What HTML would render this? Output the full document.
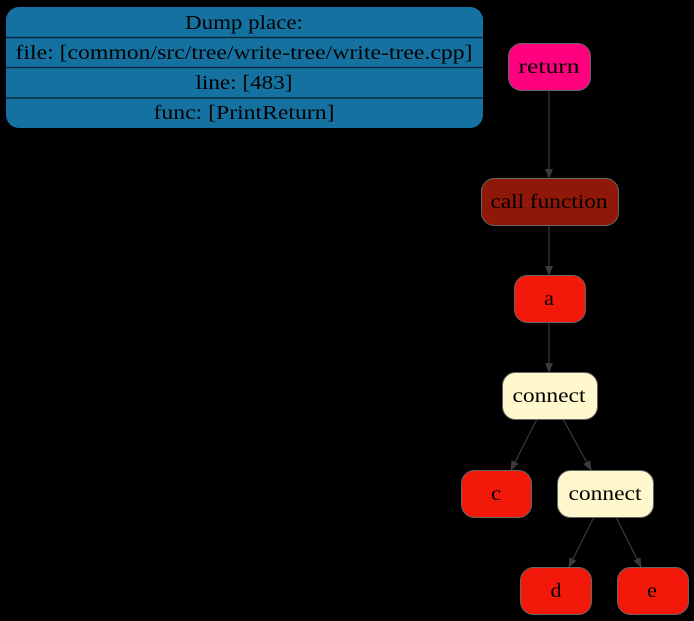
<!DOCTYPE html>
<html><head><style>body{margin:0;background:#000}svg{display:block}text{font-family:"Liberation Serif",serif;font-size:20px;fill:#000}</style></head>
<body>
<svg width="694" height="621" viewBox="0 0 694 621">
<rect width="694" height="621" fill="#000"/>
<defs><marker id="ar" markerWidth="10" markerHeight="10" refX="9" refY="5" orient="auto" markerUnits="userSpaceOnUse"><path d="M0,1 L10,5 L0,9 z" fill="#3a3a3a"/></marker></defs>
<rect x="6" y="7" width="477" height="121" rx="13" fill="#1572a0"/>
<g stroke="#062a3c" stroke-width="1.5"><line x1="6" y1="37.5" x2="483" y2="37.5"/><line x1="6" y1="67.5" x2="483" y2="67.5"/><line x1="6" y1="98" x2="483" y2="98"/></g>
<g text-anchor="middle">
<text x="244" y="29" textLength="118" lengthAdjust="spacingAndGlyphs">Dump place:</text>
<text x="244" y="59" textLength="457" lengthAdjust="spacingAndGlyphs">file: [common/src/tree/write-tree/write-tree.cpp]</text>
<text x="244" y="89" textLength="97" lengthAdjust="spacingAndGlyphs">line: [483]</text>
<text x="244" y="119" textLength="181" lengthAdjust="spacingAndGlyphs">func: [PrintReturn]</text>
</g>
<g stroke="#3a3a3a" stroke-width="1.2" fill="none">
<line x1="549" y1="90" x2="549" y2="178" marker-end="url(#ar)"/>
<line x1="549" y1="225" x2="549" y2="275" marker-end="url(#ar)"/>
<line x1="549" y1="322" x2="549" y2="372" marker-end="url(#ar)"/>
<line x1="537" y1="419" x2="511" y2="470" marker-end="url(#ar)"/>
<line x1="563" y1="419" x2="591" y2="470" marker-end="url(#ar)"/>
<line x1="594" y1="517" x2="569" y2="567" marker-end="url(#ar)"/>
<line x1="616" y1="517" x2="641" y2="567" marker-end="url(#ar)"/>
</g>
<g stroke="#666" stroke-width="1">
<rect x="508.5" y="43.5" width="82" height="47" rx="13" fill="#ff007f"/>
<rect x="481.5" y="178.5" width="137" height="47" rx="13" fill="#901808"/>
<rect x="514.5" y="275.5" width="71" height="47" rx="13" fill="#f2180a"/>
<rect x="502.5" y="372.5" width="95" height="47" rx="13" fill="#fff8cc"/>
<rect x="461.5" y="470.5" width="70" height="47" rx="13" fill="#f2180a"/>
<rect x="557.5" y="470.5" width="96" height="47" rx="13" fill="#fff8cc"/>
<rect x="520.5" y="567.5" width="71" height="47" rx="13" fill="#f2180a"/>
<rect x="617.5" y="567.5" width="71" height="47" rx="13" fill="#f2180a"/>
</g>
<g text-anchor="middle">
<text x="549" y="73" textLength="61" lengthAdjust="spacingAndGlyphs">return</text>
<text x="549" y="208" textLength="117" lengthAdjust="spacingAndGlyphs">call function</text>
<text x="549" y="305" textLength="10" lengthAdjust="spacingAndGlyphs">a</text>
<text x="549" y="402" textLength="73" lengthAdjust="spacingAndGlyphs">connect</text>
<text x="496" y="500" textLength="10" lengthAdjust="spacingAndGlyphs">c</text>
<text x="605" y="500" textLength="73" lengthAdjust="spacingAndGlyphs">connect</text>
<text x="556" y="597" textLength="11" lengthAdjust="spacingAndGlyphs">d</text>
<text x="652" y="597" textLength="10" lengthAdjust="spacingAndGlyphs">e</text>
</g>
</svg>
</body></html>
